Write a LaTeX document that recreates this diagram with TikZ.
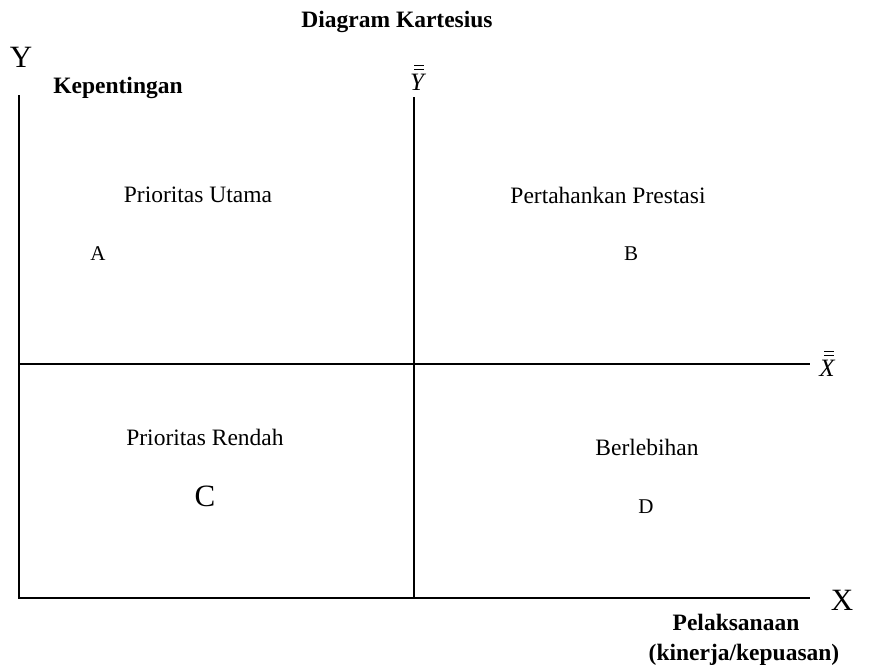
\documentclass[tikz,border=0pt]{standalone}
\usepackage{fontspec}
\setmainfont{Liberation Serif}
\begin{document}
\begin{tikzpicture}[x=1pt,y=-1pt,
  axis/.style={line width=1.3pt, black},
  bar/.style={line width=1.1pt, black},
  lbl/.style={font=\fontsize{23.5}{28}\selectfont, inner sep=0pt},
  blbl/.style={font=\fontsize{23.5}{28}\selectfont\bfseries, inner sep=0pt},
  big/.style={font=\fontsize{31}{36}\selectfont, inner sep=0pt},
  letter/.style={font=\fontsize{21}{24}\selectfont, inner sep=0pt},
  mean/.style={font=\fontsize{25}{28}\selectfont\itshape, inner sep=0pt}]
\useasboundingbox (0,0) rectangle (869,669);
% axes
\coordinate (ytop) at (19,95);
\coordinate (origin) at (19,598);
\coordinate (xend) at (810,598);
\coordinate (mtop) at (414,97);
\coordinate (mbot) at (414,598);
\coordinate (hleft) at (19,364);
\coordinate (hright) at (810,364);
\draw[axis] (ytop) -- (origin) -- (xend);
\draw[axis] (mtop) -- (mbot);
\draw[axis] (hleft) -- (hright);
% labels
\node[blbl] (title) at (397,22) {Diagram Kartesius};
\node[big] (Y) at (21,57) {Y};
\node[blbl] (kep) at (118,88) {Kepentingan};
\node[mean] (ybar) at (417,82) {Y};
\draw[bar] ([shift={(-3,-4)}]ybar.north) -- ([shift={(7,-4)}]ybar.north);
\draw[bar] ([shift={(-3,-8)}]ybar.north) -- ([shift={(7,-8)}]ybar.north);
\node[mean] (xbar) at (827,368) {X};
\draw[bar] ([shift={(-3,-4)}]xbar.north) -- ([shift={(7,-4)}]xbar.north);
\draw[bar] ([shift={(-3,-8)}]xbar.north) -- ([shift={(7,-8)}]xbar.north);
\node[big] (X) at (842,600) {X};
\node[blbl] (pel) at (736,622) {Pelaksanaan};
\node[blbl] (kin) at (744,655) {(kinerja/kepuasan)};
\node[lbl] (pu) at (198,195) {Prioritas Utama};
\node[letter] (A) at (98,254) {A};
\node[lbl] (pp) at (608,195) {Pertahankan Prestasi};
\node[letter] (B) at (631,254) {B};
\node[lbl] (pr) at (205,437) {Prioritas Rendah};
\node[big] (C) at (205,496) {C};
\node[lbl] (bl) at (647,447) {Berlebihan};
\node[letter] (D) at (646,507) {D};
\end{tikzpicture}
\end{document}
